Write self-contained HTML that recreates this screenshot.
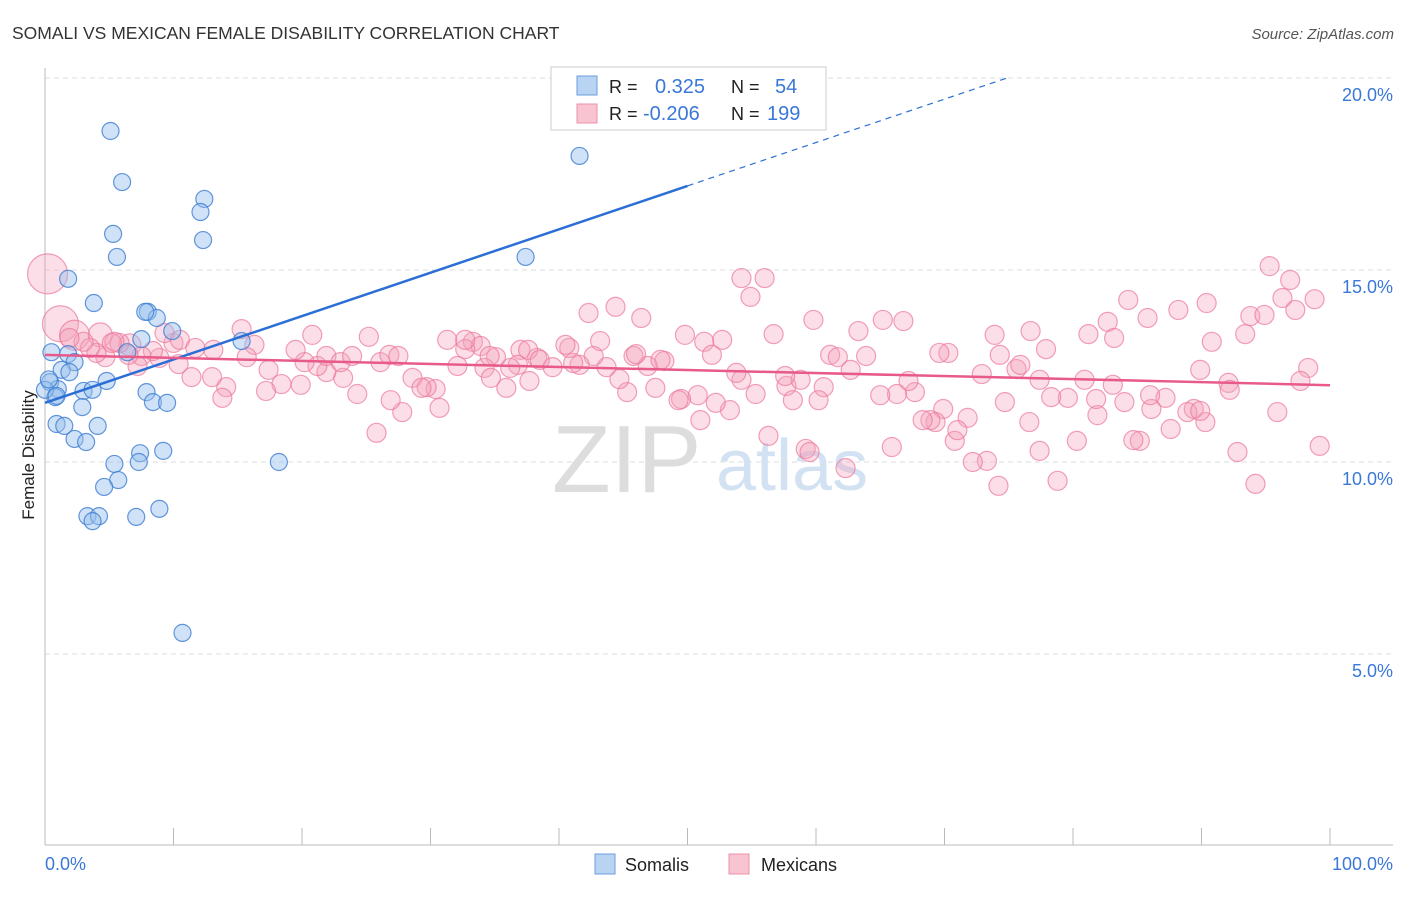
<!DOCTYPE html>
<html><head><meta charset="utf-8">
<style>
body{margin:0;background:#fff;width:1406px;height:892px;overflow:hidden;font-family:"Liberation Sans",sans-serif;}
svg text{font-family:"Liberation Sans",sans-serif;}
</style></head>
<body>
<svg id="chart" width="1406" height="892" xmlns="http://www.w3.org/2000/svg">
<text x="12" y="39" font-size="17.5" fill="#333">SOMALI VS MEXICAN FEMALE DISABILITY CORRELATION CHART</text>
<text x="1394" y="39" font-size="15" fill="#555" font-style="italic" text-anchor="end">Source: ZipAtlas.com</text>
<g id="grid"></g>
<g>
<text x="552" y="492" font-size="96" fill="#ddd" font-family="Liberation Serif">ZIP</text>
<text x="716" y="490" font-size="72" fill="#d3e2f3">atlas</text>
</g>
<line x1="45" y1="68" x2="45" y2="845" stroke="#bbb"/>
<line x1="45" y1="845" x2="1393" y2="845" stroke="#bbb"/>
<g id="xticks"></g>
<g id="ylabels"></g>
<text x="45" y="870" font-size="18" fill="#3a78d8">0.0%</text>
<text x="1393" y="870" font-size="18" fill="#3a78d8" text-anchor="end">100.0%</text>
<text transform="translate(34,455) rotate(-90)" font-size="17" fill="#222" text-anchor="middle">Female Disability</text>
<g id="pinkpts"></g>
<g id="bluepts"></g>
<g id="trends"></g>
<g>
<rect x="551" y="67" width="275" height="63" fill="#fff" stroke="#ccc"/>
<rect x="577" y="76" width="20" height="19" fill="#b9d3f3" stroke="#6a9de0"/>
<rect x="577" y="104" width="20" height="19" fill="#f9c4d2" stroke="#ee8fab"/>
<text x="609" y="93" font-size="18" fill="#222">R = </text>
<text x="655" y="93" font-size="20" fill="#3a78d8">0.325</text>
<text x="731" y="93" font-size="18" fill="#222">N = </text>
<text x="775" y="93" font-size="20" fill="#3a78d8">54</text>
<text x="609" y="120" font-size="18" fill="#222">R = </text>
<text x="643" y="120" font-size="20" fill="#3a78d8">-0.206</text>
<text x="731" y="120" font-size="18" fill="#222">N = </text>
<text x="767" y="120" font-size="20" fill="#3a78d8">199</text>
</g>
<g>
<rect x="595" y="854" width="20" height="20" fill="#b9d3f3" stroke="#6a9de0"/>
<text x="625" y="871" font-size="18" fill="#222">Somalis</text>
<rect x="729" y="854" width="20" height="20" fill="#f9c4d2" stroke="#ee8fab"/>
<text x="761" y="871" font-size="18" fill="#222">Mexicans</text>
</g>
</svg>
<script>
const yTicks=[5,10,15,20];
const yTickLabels=["5.0%","10.0%","15.0%","20.0%"];
const xTickVals=[0,10,20,30,40,50,60,70,80,90,100];
const blueX=[5.1,6.0,12.4,12.1,5.3,12.3,5.6,1.8,3.8,8.0,8.7,9.9,7.5,15.3,0.5,1.8,6.4,2.3,1.3,1.9,0.4,1.0,4.8,3.0,3.7,0.8,7.9,8.4,9.5,2.9,0.9,1.5,4.1,2.3,3.2,9.2,7.4,5.4,7.3,18.2,5.7,4.6,8.9,3.3,4.2,3.7,7.1,10.7,41.6,37.4,0.0,0.9,7.8,0.3];
const blueY=[18.62,17.29,16.85,16.51,15.94,15.78,15.34,14.77,14.14,13.91,13.75,13.41,13.20,13.15,12.86,12.81,12.86,12.60,12.40,12.34,12.08,11.90,12.11,11.85,11.88,11.69,11.82,11.56,11.54,11.43,10.99,10.94,10.94,10.60,10.52,10.29,10.23,9.95,10.0,10.0,9.53,9.35,8.78,8.59,8.59,8.46,8.57,5.55,17.97,15.34,11.88,11.72,13.91,12.15];
const pinkX=[0.2,1.2,2.3,4.3,6.6,15.3,16.3,20.8,25.2,31.3,33.3,37.0,42.3,44.4,46.4,49.8,51.3,52.7,56.7,59.8,63.3,65.2,66.8,70.3,73.9,76.7,77.9,81.2,82.7,83.2,84.3,85.8,88.2,90.4,90.8,93.8,94.9,93.4,95.3,96.9,96.3,98.8,97.3,98.3,97.7,99.2,94.2,92.8,95.9,92.1,90.3,89.4,88.9,89.9,87.6,87.2,86.1,85.2,84.7,84.0,81.9,80.3,81.8,79.6,78.8,78.3,77.4,76.6,75.6,74.7,74.2,73.3,72.2,72.9,70.8,71.8,69.9,69.3,68.9,68.3,67.7,67.2,66.3,65.0,65.9,62.3,60.6,59.2,59.5,57.7,58.8,58.2,57.6,56.3,55.3,54.2,53.3,52.2,50.8,49.5,49.3,48.2,46.9,47.5,45.8,45.3,44.7,43.7,42.7,41.6,41.1,40.8,39.5,38.3,37.7,36.8,36.2,35.1,34.2,35.9,34.7,33.9,32.7,32.1,30.4,30.7,29.7,28.6,29.3,27.8,26.9,25.8,24.3,23.2,21.9,21.2,20.2,19.9,18.4,17.2,17.4,15.7,14.1,13.8,13.0,11.4,10.4,10.0,8.9,8.4,7.5,7.2,6.5,5.8,5.4,4.7,4.0,3.5,3.0,1.9,5.2,9.3,10.5,11.7,13.1,19.5,21.9,23.0,23.9,26.1,26.8,27.5,32.7,34.6,37.6,38.5,40.5,43.2,46.0,47.9,51.9,54.2,54.9,56.0,53.8,61.1,61.7,63.9,62.7,71.0,60.2,51.0,69.6,74.3,75.9,77.4,86.0,89.9,92.2,80.9,83.1];
const pinkY=[14.9,13.6,13.3,13.31,13.05,13.46,13.05,13.31,13.26,13.18,13.13,12.92,13.88,14.04,13.75,13.31,13.13,13.18,13.33,13.70,13.41,13.70,13.67,12.84,13.31,13.41,12.94,13.33,13.65,13.23,14.22,13.75,13.96,14.14,13.13,13.80,13.83,13.33,15.10,14.74,14.27,14.24,13.96,12.45,12.11,10.42,9.43,10.26,11.30,12.06,11.04,11.38,11.30,11.33,10.86,11.67,11.38,10.55,10.57,11.56,11.22,10.55,11.64,11.67,9.51,11.69,10.29,11.04,12.42,11.56,9.38,10.03,10.00,12.29,10.55,11.15,11.38,11.04,11.09,11.09,11.82,12.11,11.77,11.74,10.39,9.84,11.95,10.34,10.26,11.98,12.14,11.61,12.24,10.68,11.77,12.14,11.35,11.54,11.74,11.64,11.61,12.63,12.50,11.93,12.76,11.82,12.16,12.47,12.76,12.53,12.58,12.97,12.47,12.71,12.11,12.53,12.45,12.73,12.45,11.93,12.19,13.02,12.94,12.50,11.90,11.41,11.95,12.19,11.93,11.30,11.61,10.76,11.77,12.19,12.34,12.50,12.60,12.01,12.03,11.85,12.40,12.73,11.95,11.67,12.21,12.21,12.55,13.10,12.71,12.89,12.76,12.50,12.79,13.10,13.13,12.73,12.84,12.97,13.13,13.23,13.10,13.36,13.18,12.97,12.92,12.92,12.76,12.60,12.76,12.60,12.79,12.76,13.18,12.76,12.92,12.66,13.05,13.15,12.81,12.66,12.79,14.79,14.30,14.79,12.32,12.79,12.73,12.76,12.40,10.83,11.61,11.09,12.84,12.79,12.53,12.14,11.74,12.40,11.88,12.14,12.01];
const pinkSize=[20,18,15,12,11];
const blueTrend=[0,11.54,50,17.19];
const pinkTrend=[0,12.79,100,12.0];

const NS="http://www.w3.org/2000/svg";
const X=v=>45+v*12.85;
const Y=v=>846-v*38.4;
function mk(tag,attrs,parent){const e=document.createElementNS(NS,tag);for(const k in attrs)e.setAttribute(k,attrs[k]);parent.appendChild(e);return e;}
const grid=document.getElementById('grid'),yl=document.getElementById('ylabels'),xt=document.getElementById('xticks');
yTicks.forEach((t,i)=>{
  const l=mk('line',{x1:45,x2:1393,y1:Y(t),y2:Y(t),stroke:'#ddd','stroke-dasharray':'5,4'},grid);
  
  
  const tx=mk('text',{x:1393,y:Y(t)+23,'font-size':18,fill:'#3a78d8','text-anchor':'end'},yl);
  tx.textContent=yTickLabels[i];
  
  
});
xTickVals.forEach(v=>{
  const l=mk('line',{x1:X(v),x2:X(v),y1:828,y2:845,stroke:'#bbb'},xt);
  
  
});
const pg=document.getElementById('pinkpts');
pinkX.forEach((v,i)=>{
  const c=mk('circle',{cx:X(v),cy:Y(pinkY[i]),r:pinkSize[i]||9.5,fill:'rgba(244,160,185,0.35)',stroke:'rgba(236,120,155,0.7)','stroke-width':1.2},pg);
  
  
});
const bg=document.getElementById('bluepts');
blueX.forEach((v,i)=>{
  const c=mk('circle',{cx:X(v),cy:Y(blueY[i]),r:8.5,fill:'rgba(150,190,238,0.45)',stroke:'rgba(60,125,210,0.8)','stroke-width':1.2},bg);
  
  
});
const tg=document.getElementById('trends');
const slope=(blueTrend[3]-blueTrend[1])/(blueTrend[2]-blueTrend[0]);
const xEnd=blueTrend[0]+(20.0-blueTrend[1])/slope;
const bl=mk('line',{x1:X(blueTrend[0]),y1:Y(blueTrend[1]),x2:X(blueTrend[2]),y2:Y(blueTrend[3]),stroke:'#2b6fd6','stroke-width':2.5},tg);


const bd=mk('line',{x1:X(blueTrend[2]),y1:Y(blueTrend[3]),x2:X(xEnd),y2:Y(20.0),stroke:'#2b6fd6','stroke-width':1.2,'stroke-dasharray':'6,5'},tg);


const pl=mk('line',{x1:X(pinkTrend[0]),y1:Y(pinkTrend[1]),x2:X(pinkTrend[2]),y2:Y(pinkTrend[3]),stroke:'#e85a8a','stroke-width':2.5},tg);


</script>
</body></html>
